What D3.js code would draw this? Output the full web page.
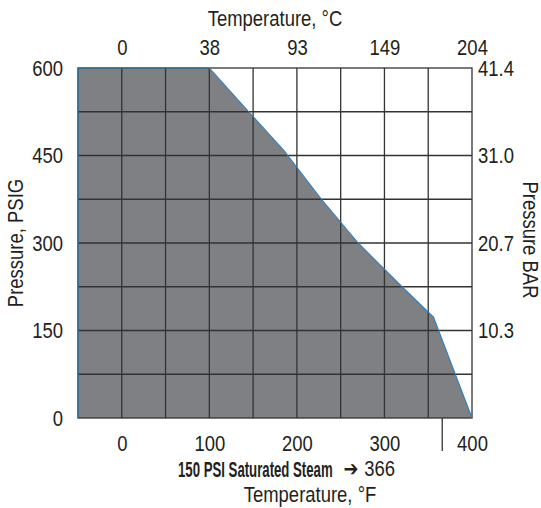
<html>
<head>
<script src="https://cdn.jsdelivr.net/npm/d3@7"></script>
<style>
body { margin: 0; background: white; }
text { font-family: "Liberation Sans", Arial, sans-serif; fill: #231f20; }
.axis text { font-size: 22px; }
.axis path, .axis line { display: none; }
</style>
</head>
<body>
<svg width="541" height="508"></svg>
<script>
// pressure / temperature rating curve
var tempsF = [-50, 100, 145, 185, 228, 270, 320, 356, 400];
var psig   = [600, 600, 525, 459, 375, 300, 225, 173, 0];

var bottomTicks = [0, 100, 200, 300, 400];
var topLabels = ["0", "38", "93", "149", "204"];
var leftTicks = [0, 150, 300, 450, 600];
var rightTicks = [600, 450, 300, 150];
var rightLabels = ["41.4", "31.0", "20.7", "10.3"];
var steamF = 366;

var squeeze = 0.84; // the original uses a condensed face

var svg = d3.select("svg");

var x = d3.scaleLinear().domain([-50, 400]).range([78, 472]);
var y = d3.scaleLinear().domain([0, 600]).range([418, 68]);

function narrow(sel, s) {
    s = s || squeeze;
    sel.each(function() {
        var t = d3.select(this);
        var xx = +t.attr("x") || 0;
        t.attr("x", xx / s).attr("transform", "scale(" + s + ",1)");
    });
}

// shaded area (closed down to 0 psi at the left)
var pts = tempsF.map(function(t, i) { return [x(t), y(psig[i])]; });
pts.push([x(-50), y(0)]);

svg.append("polygon")
    .attr("points", pts.map(function(p) { return p.join(","); }).join(" "))
    .style("fill", "#7f8083");

// grid
svg.append("g").selectAll("line")
    .data(d3.range(0, 400, 50))
    .enter().append("line")
    .attr("x1", function(d) { return x(d); })
    .attr("x2", function(d) { return x(d); })
    .attr("y1", y(0)).attr("y2", y(600))
    .style("stroke", "#333").style("stroke-width", 1.3);

svg.append("g").selectAll("line")
    .data(d3.range(75, 600, 75))
    .enter().append("line")
    .attr("y1", function(d) { return y(d); })
    .attr("y2", function(d) { return y(d); })
    .attr("x1", x(-50)).attr("x2", x(400))
    .style("stroke", "#333").style("stroke-width", 1.3);

svg.append("rect")
    .attr("x", x(-50)).attr("y", y(600))
    .attr("width", x(400) - x(-50)).attr("height", y(0) - y(600))
    .style("fill", "none").style("stroke", "#333").style("stroke-width", 1.3);

// blue outline of the curve
svg.append("path")
    .attr("d", d3.line()([[x(-50), y(0)]].concat(pts.slice(0, -1))))
    .style("fill", "none").style("stroke", "#2a7fc1").style("stroke-width", 1.1);

// 366 F marker
svg.append("line")
    .attr("x1", x(steamF)).attr("x2", x(steamF))
    .attr("y1", y(0)).attr("y2", y(0) + 33)
    .style("stroke", "#333").style("stroke-width", 1.3);

// axes
svg.append("g").attr("class", "axis")
    .attr("transform", "translate(0," + y(0) + ")")
    .call(d3.axisBottom(x).tickValues(bottomTicks).tickSize(0).tickPadding(17).tickFormat(d3.format("d")));

svg.append("g").attr("class", "axis")
    .attr("transform", "translate(0," + y(600) + ")")
    .call(d3.axisTop(x).tickValues(bottomTicks).tickSize(0).tickPadding(13)
        .tickFormat(function(d, i) { return topLabels[i]; }));

svg.append("g").attr("class", "axis")
    .attr("transform", "translate(" + x(-50) + ",0)")
    .call(d3.axisLeft(y).tickValues(leftTicks).tickSize(0).tickPadding(15));

svg.append("g").attr("class", "axis")
    .attr("transform", "translate(" + x(400) + ",0)")
    .call(d3.axisRight(y).tickValues(rightTicks).tickSize(0).tickPadding(6)
        .tickFormat(function(d, i) { return rightLabels[i]; }));

svg.selectAll(".axis text").call(narrow);

// titles
function title(tf, str, anchor, s) {
    return svg.append("g").attr("transform", tf)
        .append("text")
        .attr("text-anchor", anchor || "middle")
        .style("font-size", "22px")
        .text(str)
        .call(narrow, s);
}

title("translate(275,26)", "Temperature, \u00B0C");
title("translate(23,243) rotate(-90)", "Pressure, PSIG");
title("translate(523,240) rotate(90)", "Pressure BAR");
title("translate(310,502)", "Temperature, \u00B0F");

// saturated steam note
title("translate(178,477)", "150 PSI Saturated Steam", "start", 0.6)
    .style("font-weight", "bold");
title("translate(351,476)", "\u2794", "middle", 0.85)
    .style("font-family", "DejaVu Sans").style("font-weight", "bold").style("font-size", "21px");
title("translate(395,476)", steamF, "end");
</script>
</body>
</html>
